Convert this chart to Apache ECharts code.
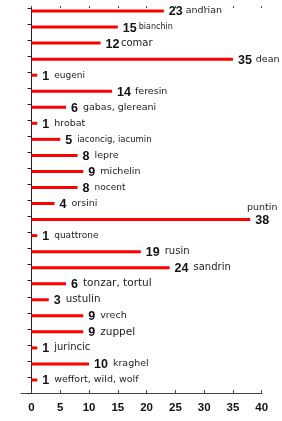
<!DOCTYPE html>
<html><head><meta charset="utf-8">
<script src="https://cdn.jsdelivr.net/npm/echarts@6/dist/echarts.min.js"></script>
<style>html,body{margin:0;padding:0;background:#fff}#c{width:282px;height:421px}</style>
</head><body><div id="c"></div>
<script>
const categories = ["andrian","bianchin","comar","dean","eugeni","feresin","gabas, glereani","hrobat","iaconcig, iacumin","lepre","michelin","nocent","orsini","puntin","quattrone","rusin","sandrin","tonzar, tortul","ustulin","vrech","zuppel","jurincic","kraghel","weffort, wild, wolf"];
const values = [23,15,12,35,1,14,6,1,5,8,9,8,4,38,1,19,24,6,3,9,9,1,10,1];
const xMin = 0, xMax = 40, xStep = 5;

// label styling (kept apart from data)
const nameSize = {"bianchin":8,"iaconcig, iacumin":8.5,"eugeni":9,"nocent":9,"quattrone":9,"tonzar, tortul":10.5,"zuppel":10.5,"ustulin":10.3,"rusin":10,"sandrin":10,"comar":10,"jurincic":10};
const nameGap = {"bianchin":2,"comar":1.5,"andrian":3,"feresin":4,"dean":4};
const aboveNames = new Set(["puntin"]);

const chart = echarts.init(document.getElementById('c'), null, {renderer:'canvas'});
const FONT = '"Liberation Sans", Arial, sans-serif';
const NFONT = '"DejaVu Sans", sans-serif';

const rich = {
  v:{fontSize:12.5, fontWeight:'bold', color:'#111', fontFamily:FONT, lineHeight:14},
  p:{fontSize:9.5, color:'#222', fontFamily:NFONT, lineHeight:11}
};
categories.forEach((c,i)=>{
  rich['n'+i] = {fontSize:nameSize[c]||9.5, color:'#222', fontFamily:NFONT,
    padding:[0,0,2,nameGap[c]!==undefined?nameGap[c]:5]};
});

const data = values.map((v,i)=>{
  const name = categories[i];
  if (aboveNames.has(name)) {
    return {value:v, label:{
      formatter: '{p|'+name+'}\n{v|'+v+'}', align:'center', offset:[7,-5]
    }};
  }
  return v;
});

chart.setOption({
  animation:false,
  grid:[
    {left:31.5, width:230.2, top:3, height:385},
    {left:31.5, width:230.2, top:8, height:385},
    {left:21, width:241, top:8, height:385}
  ],
  xAxis:[
    {gridIndex:0, type:'value', min:xMin, max:xMax, show:false},
    {gridIndex:1, type:'value', min:xMin, max:xMax, interval:xStep,
     axisLine:{show:false, onZero:false},
     axisTick:{show:true, inside:true, length:3, lineStyle:{color:'#444'}},
     axisLabel:{show:true, margin:9, color:'#111', fontSize:11.5, fontWeight:'bold', fontFamily:FONT},
     splitLine:{show:false}},
    {gridIndex:1, type:'value', min:xMin, max:xMax, interval:xStep,
     axisLine:{show:false, onZero:false},
     axisTick:{show:true, inside:false, length:2, lineStyle:{color:'#444'}},
     axisLabel:{show:false}, splitLine:{show:false}},
    {gridIndex:2, type:'value', min:0, max:1,
     axisLine:{show:true, onZero:false, lineStyle:{color:'#444'}},
     axisTick:{show:false}, axisLabel:{show:false}, splitLine:{show:false}}
  ],
  yAxis:[
    {gridIndex:0, type:'category', inverse:true, data:categories, show:false},
    {gridIndex:1, type:'value', inverse:true, min:0, max:categories.length, interval:1,
     axisLine:{show:true, onZero:false, lineStyle:{color:'#222'}},
     axisTick:{show:true, length:4, lineStyle:{color:'#222'}},
     axisLabel:{show:false}, splitLine:{show:false}},
    {gridIndex:2, type:'value', min:0, max:1, show:false}
  ],
  series:[{
    type:'bar', xAxisIndex:0, yAxisIndex:0, barWidth:3,
    itemStyle:{color:'#ff0000'},
    data:data,
    label:{
      show:true, position:'right', distance:5, offset:[0,1],
      formatter:(p)=>'{v|'+p.value+'}{n'+p.dataIndex+'|'+categories[p.dataIndex]+'}',
      rich:rich
    }
  }]
});
</script></body></html>
